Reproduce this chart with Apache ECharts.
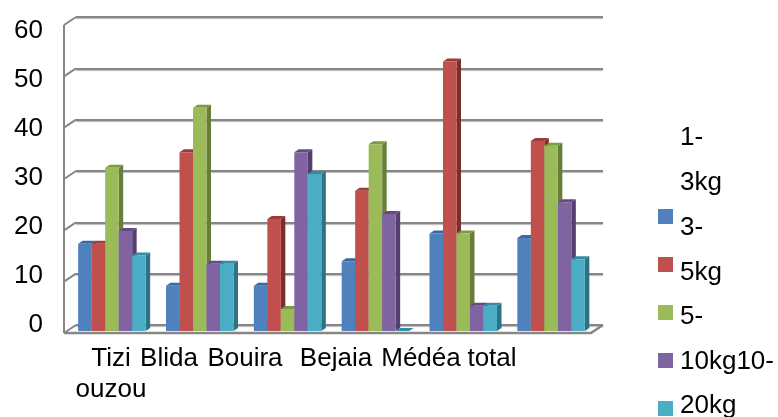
<!DOCTYPE html>
<html>
<head>
<meta charset="utf-8">
<title>chart</title>
<script src="https://cdn.jsdelivr.net/npm/echarts@6/dist/echarts.min.js"></script>
<style>
    html, body { margin: 0; padding: 0; background: #fff; }
    #main { width: 778px; height: 417px; }
</style>
</head>
<body>
<div id="main"></div>
<script>
// data
var categories = ['Tizi\nouzou', 'Blida', 'Bouira', 'Bejaia', 'Médéa', 'total'];
var seriesNames = ['1-3kg', '3-5kg', '5-10kg', '10-20kg', '20kg'];
var kg1to3 = [17, 8.8, 8.8, 13.6, 19, 18.1];
var kg3to5 = [17, 34.8, 21.8, 27.3, 52.5, 37];
var kg5to10 = [31.8, 43.5, 4.3, 36.4, 19, 36.1];
var kg10to20 = [19.5, 13.1, 34.8, 22.8, 4.9, 25.1];
var kg20 = [14.7, 13.1, 30.6, 0, 4.9, 14];
var yTicks = [0, 10, 20, 30, 40, 50, 60];
var legendLines = ['1-', '3kg', '3-', '5kg', '5-', '10kg10-', '20kg'];

// the labels in the picture do not sit under their groups, so they get their own x
var catLabelX = [111, 169, 245, 336, 421, 492];
var legendLineY = [138, 183, 228, 273, 317, 362, 406];

var fontName = '"Liberation Sans", Arial, sans-serif';
var fontSize = 26;
var colors = ['#4F81BD', '#C0504D', '#9BBB59', '#8064A2', '#4BACC6'];
var topColors = ['#3A689F', '#9C3B38', '#7C9A41', '#634A82', '#348CA5'];
var sideColors = ['#33597F', '#7B2E2C', '#677E3A', '#54406E', '#2E7286'];
var allValues = [kg1to3, kg3to5, kg5to10, kg10to20, kg20];

var barW = 13.5 / 87.83; // share of a category band
var depthX = 4.5, depthY = 3;
var wallX = 12, wallY = 8;

function barItem(i) {
    return function (params, api) {
        var c = api.value(0);
        var top = api.coord([c, api.value(1)]);
        var base = api.coord([c, 0]);
        var w = api.size([1, 0])[0] * barW;
        var x = top[0] - w * 2.5 + w * i;
        var h = base[1] - top[1];
        var y = top[1];
        var kids = [];
        kids.push({
            type: 'polygon',
            shape: { points: [[x + w, y], [x + w + depthX, y - depthY], [x + w + depthX, base[1] - depthY], [x + w, base[1]]] },
            style: { fill: sideColors[i] }
        });
        kids.push({
            type: 'polygon',
            shape: { points: [[x, y], [x + w, y], [x + w + depthX, y - depthY], [x + depthX, y - depthY]] },
            style: { fill: topColors[i] }
        });
        if (h > 0) {
            kids.push({ type: 'rect', shape: { x: x, y: y, width: w, height: h }, style: { fill: colors[i] } });
        }
        return { type: 'group', children: kids };
    };
}

// slanted wall ends and the front edges of the box
function wallItem(params, api) {
    var p = api.coord([0, api.value(0)]);
    var line = { stroke: '#868686', lineWidth: 2 };
    var kids = [{
        type: 'line',
        shape: { x1: p[0], y1: p[1], x2: p[0] - wallX, y2: p[1] + wallY },
        style: line
    }];
    if (params.dataIndex === 0) {
        var end = api.coord([1, 0]);
        var roof = api.coord([0, 60]);
        kids.push({
            type: 'line',
            shape: { x1: p[0] - wallX, y1: p[1] + wallY, x2: roof[0] - wallX, y2: roof[1] + wallY },
            style: line
        });
        kids.push({
            type: 'polyline',
            shape: { points: [[p[0] - wallX, p[1] + wallY], [end[0] - wallX, end[1] + wallY], [end[0], end[1]]] },
            style: { stroke: '#868686', lineWidth: 2.5, fill: null }
        });
    }
    return { type: 'group', children: kids };
}

var series = [{
    type: 'custom',
    coordinateSystem: 'cartesian2d',
    xAxisIndex: 1,
    yAxisIndex: 1,
    silent: true,
    z: 1,
    renderItem: wallItem,
    data: yTicks.map(function (t) { return [t]; }),
    encode: { y: 0 }
}];
seriesNames.forEach(function (name, i) {
    series.push({
        name: name,
        type: 'custom',
        coordinateSystem: 'cartesian2d',
        xAxisIndex: 0,
        yAxisIndex: 0,
        z: 2 + i,
        itemStyle: { color: colors[i] },
        renderItem: barItem(i),
        data: allValues[i].map(function (v, k) { return [k, v]; }),
        encode: { x: 0, y: 1 }
    });
});

var graphicText = [];
categories.forEach(function (name, i) {
    graphicText.push({
        type: 'text',
        x: catLabelX[i],
        y: 343,
        style: {
            text: name,
            fontFamily: fontName,
            fontSize: fontSize,
            lineHeight: 31,
            fill: '#000',
            textAlign: 'center',
            textVerticalAlign: 'top'
        }
    });
});
legendLines.forEach(function (line, i) {
    graphicText.push({
        type: 'text',
        x: 680,
        y: legendLineY[i],
        style: {
            text: line,
            fontFamily: fontName,
            fontSize: fontSize,
            fill: '#000',
            textAlign: 'left',
            textVerticalAlign: 'middle'
        }
    });
});

var myChart = echarts.init(document.getElementById('main'));
myChart.setOption({
    animation: false,
    backgroundColor: '#fff',
    grid: [
        { left: 68, width: 527, top: 23, height: 308 },  // bars
        { left: 76, width: 527, top: 17, height: 308 },  // back wall
        { left: 0, width: 43, top: 31, height: 294 }     // y labels, they are closer together than the grid lines
    ],
    xAxis: [
        { gridIndex: 0, type: 'category', data: categories, show: false },
        { gridIndex: 1, type: 'value', min: 0, max: 1, show: false },
        { gridIndex: 2, type: 'value', min: 0, max: 1, show: false }
    ],
    yAxis: [
        { gridIndex: 0, type: 'value', min: 0, max: 60, interval: 10, show: false },
        {
            gridIndex: 1, type: 'value', min: 0, max: 60, interval: 10,
            axisLine: { show: false },
            axisTick: { show: false },
            axisLabel: { show: false },
            splitLine: {
                show: true,
                lineStyle: { color: '#868686', width: 2, shadowColor: '#bbb', shadowOffsetY: 1, shadowBlur: 1 }
            }
        },
        {
            gridIndex: 2, type: 'value', min: 0, max: 60, interval: 10, position: 'right',
            axisLine: { show: false },
            axisTick: { show: false },
            splitLine: { show: false },
            axisLabel: {
                inside: true,
                align: 'right',
                margin: 0,
                color: '#000',
                fontFamily: fontName,
                fontSize: fontSize
            }
        }
    ],
    legend: {
        orient: 'vertical',
        left: 658,
        top: 209,
        padding: 0,
        itemWidth: 15,
        itemHeight: 15,
        itemGap: 33,
        icon: 'rect',
        selectedMode: false,
        data: seriesNames,
        formatter: function () { return ''; }
    },
    graphic: graphicText,
    series: series
});
</script>
</body>
</html>
